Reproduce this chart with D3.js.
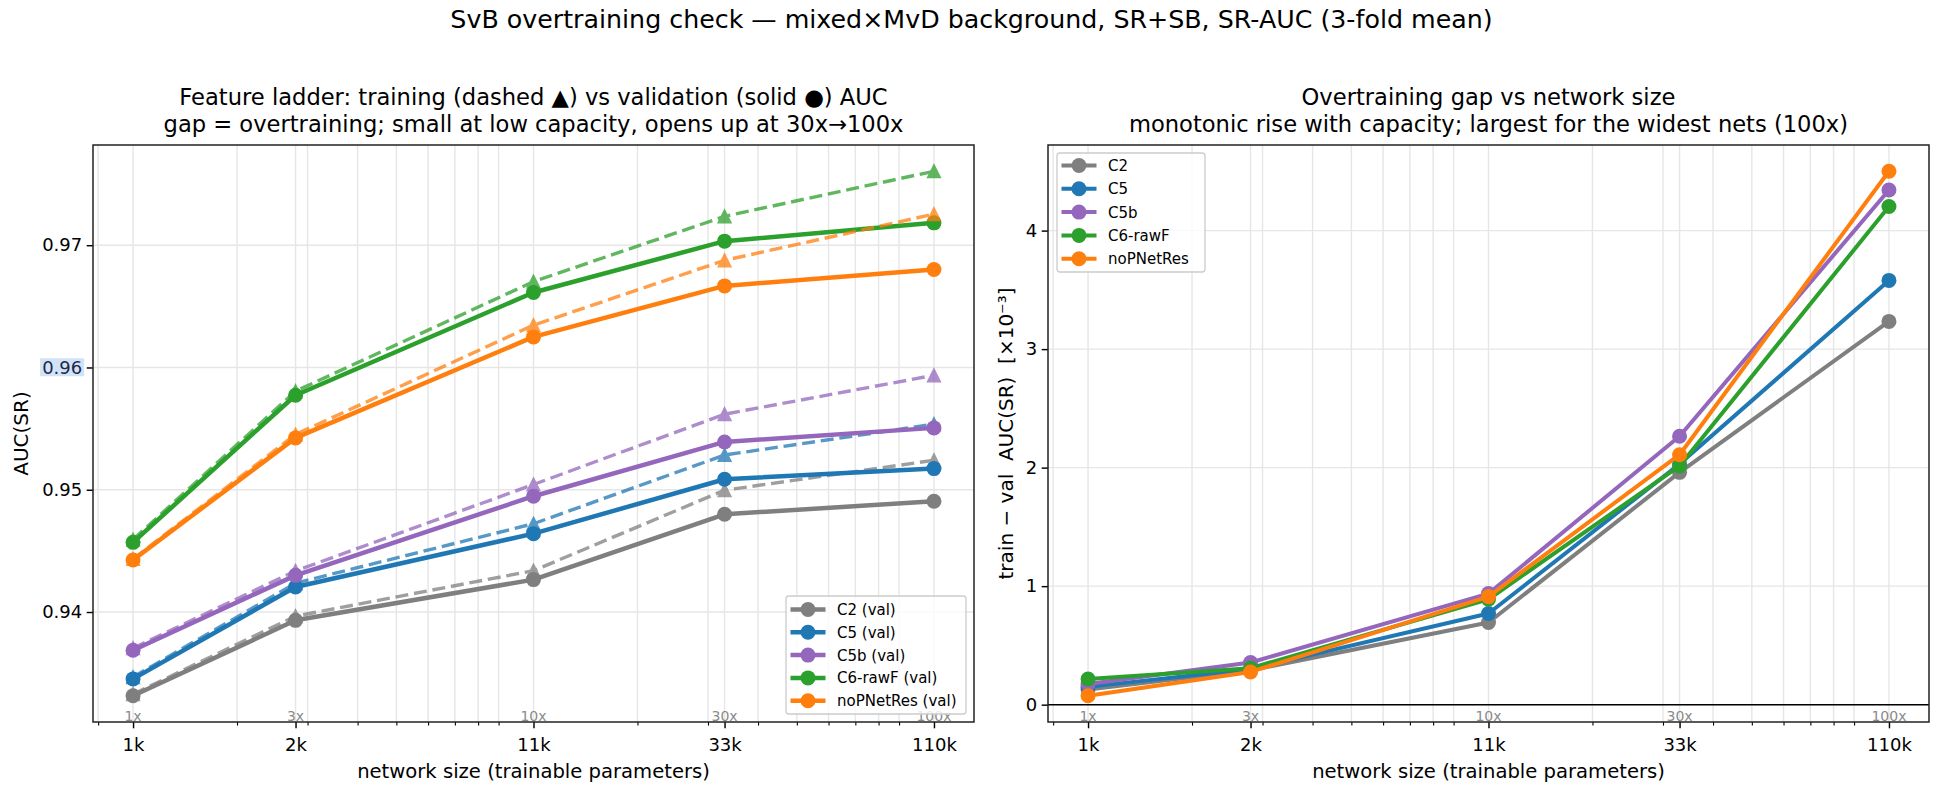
<!DOCTYPE html>
<html>
<head>
<meta charset="utf-8">
<script src="https://cdn.jsdelivr.net/npm/d3@7"></script>
<style>
body { margin: 0; background: #fff; }
text { font-family: "DejaVu Sans", sans-serif; }
</style>
</head>
<body>
<div id="chart"></div>
<script>
// network sizes (trainable parameters) and their tick labels
var params = [1100, 2800, 11000, 33000, 110000];
var paramLabels = ['1k', '2k', '11k', '33k', '110k'];
var multLabels = ['1x', '3x', '10x', '30x', '100x'];

var configs = ['C2', 'C5', 'C5b', 'C6-rawF', 'noPNetRes'];

// validation AUC(SR), 3-fold mean
var valC2   = [0.93315, 0.93932, 0.94265, 0.94799, 0.94906];
var valC5   = [0.93453, 0.94205, 0.94641, 0.95086, 0.95173];
var valC5b  = [0.93687, 0.94300, 0.94947, 0.95391, 0.95506];
var valC6   = [0.94570, 0.95773, 0.96613, 0.97033, 0.97183];
var valNoP  = [0.94426, 0.95424, 0.96250, 0.96667, 0.96801];

// training AUC(SR), 3-fold mean
var trainC2  = [0.93328, 0.93966, 0.94338, 0.94996, 0.95241];
var trainC5  = [0.93468, 0.94236, 0.94722, 0.95284, 0.95536];
var trainC5b = [0.93704, 0.94336, 0.95043, 0.95618, 0.95936];
var trainC6  = [0.94592, 0.95806, 0.96702, 0.97236, 0.97605];
var trainNoP = [0.94434, 0.95452, 0.96346, 0.96876, 0.97254];

// train - val gap, in units of 1e-3
var gapC2  = [0.127, 0.290, 0.693, 1.960, 3.234];
var gapC5  = [0.150, 0.300, 0.769, 2.030, 3.580];
var gapC5b = [0.175, 0.356, 0.937, 2.265, 4.342];
var gapC6  = [0.216, 0.308, 0.889, 2.014, 4.203];
var gapNoP = [0.075, 0.276, 0.912, 2.109, 4.501];

var valSeries = [valC2, valC5, valC5b, valC6, valNoP];
var trainSeries = [trainC2, trainC5, trainC5b, trainC6, trainNoP];
var gapSeries = [gapC2, gapC5, gapC5b, gapC6, gapNoP];

var colors = ['#7f7f7f', '#1f77b4', '#9467bd', '#2ca02c', '#ff7f0e'];

// svg area
var svgWidth = 1943;
var svgHeight = 790;

var svg = d3.select('#chart')
    .append('svg')
    .attr('width', svgWidth)
    .attr('height', svgHeight)
    .style('background', '#fff');

svg.append('text')
    .attr('x', svgWidth / 2)
    .attr('y', 28)
    .attr('text-anchor', 'middle')
    .style('font-size', '25.3px')
    .text('SvB overtraining check — mixed×MvD background, SR+SB, SR-AUC (3-fold mean)');

// one panel: scales, grid, ticks, spines
function makePanel(box, yValues, yTicks, yFormat, titles, yLabel, yLabelX) {
    var g = svg.append('g');

    // log x with matplotlib-like 5% margins
    var lx0 = Math.log10(d3.min(params));
    var lx1 = Math.log10(d3.max(params));
    var lpad = 0.05 * (lx1 - lx0);
    var x = d3.scaleLog()
        .domain([Math.pow(10, lx0 - lpad), Math.pow(10, lx1 + lpad)])
        .range([box.x0, box.x1]);

    var ext = d3.extent(yValues);
    var ypad = 0.05 * (ext[1] - ext[0]);
    var y = d3.scaleLinear()
        .domain([ext[0] - ypad, ext[1] + ypad])
        .range([box.y1, box.y0]);

    // minor log ticks (no decades, those were replaced by the param ticks)
    var minor = [];
    for (var e = 2; e <= 5; e++) {
        for (var m = 2; m <= 9; m++) {
            var v = m * Math.pow(10, e);
            if (v > x.domain()[0] && v < x.domain()[1]) minor.push(v);
        }
    }

    var grid = g.append('g');
    grid.selectAll('line.gx')
        .data(minor.concat(params))
        .enter()
        .append('line')
        .attr('x1', d => x(d)).attr('x2', d => x(d))
        .attr('y1', box.y0).attr('y2', box.y1)
        .attr('stroke', '#e6e6e6')
        .attr('stroke-width', 1.4);
    grid.selectAll('line.gy')
        .data(yTicks)
        .enter()
        .append('line')
        .attr('x1', box.x0).attr('x2', box.x1)
        .attr('y1', d => y(d)).attr('y2', d => y(d))
        .attr('stroke', '#e6e6e6')
        .attr('stroke-width', 1.4);

    // gray capacity multipliers along the bottom
    g.selectAll('text.mult')
        .data(multLabels)
        .enter()
        .append('text')
        .attr('x', (d, i) => x(params[i]))
        .attr('y', box.y1 - 1.5)
        .attr('text-anchor', 'middle')
        .style('font-size', '14px')
        .attr('fill', '#8a8a8a')
        .text(d => d);

    // x axis, major + minor
    g.append('g')
        .attr('transform', `translate(0, ${box.y1})`)
        .call(d3.axisBottom(x)
            .tickValues(params)
            .tickFormat((d, i) => paramLabels[i])
            .tickSize(6.3)
            .tickPadding(10.4));
    g.append('g')
        .attr('transform', `translate(0, ${box.y1})`)
        .call(d3.axisBottom(x)
            .tickValues(minor)
            .tickFormat('')
            .tickSize(3.6))
        .selectAll('line').attr('stroke-width', 1.1);

    var yAxis = g.append('g')
        .attr('transform', `translate(${box.x0}, 0)`)
        .call(d3.axisLeft(y)
            .tickValues(yTicks)
            .tickFormat(yFormat)
            .tickSize(6.3)
            .tickPadding(4.5));

    g.selectAll('.domain').remove();
    g.selectAll('.tick line').attr('stroke', '#000').filter(function() {
        return !this.getAttribute('stroke-width');
    }).attr('stroke-width', 1.45);
    g.selectAll('.tick text')
        .style('font-size', '18px')
        .style('font-family', '"DejaVu Sans", sans-serif')
        .attr('fill', '#000');

    // titles
    titles.forEach((t, i) => {
        svg.append('text')
            .attr('x', (box.x0 + box.x1) / 2)
            .attr('y', 105 + i * 27.2)
            .attr('text-anchor', 'middle')
            .style('font-size', '22.6px')
            .text(t);
    });

    svg.append('text')
        .attr('x', (box.x0 + box.x1) / 2)
        .attr('y', 778)
        .attr('text-anchor', 'middle')
        .style('font-size', '19.6px')
        .text('network size (trainable parameters)');

    svg.append('text')
        .attr('transform', `translate(${yLabelX}, ${(box.y0 + box.y1) / 2}) rotate(-90)`)
        .attr('text-anchor', 'middle')
        .attr('dy', '0.35em')
        .style('font-size', '20px')
        .style('white-space', 'pre')
        .text(yLabel);

    var data = g.append('g');
    var top = svg.append('g');

    // spines drawn last
    top.append('rect')
        .attr('x', box.x0).attr('y', box.y0)
        .attr('width', box.x1 - box.x0).attr('height', box.y1 - box.y0)
        .attr('fill', 'none')
        .attr('stroke', '#222')
        .attr('stroke-width', 1.5);

    return { g: data, x: x, y: y, yAxis: yAxis, top: top };
}

function triangle(s) {
    return `M0,${-s}L${s},${s}L${-s},${s}Z`;
}

function legend(parent, bx, by, bw, bh, rowY0, rowStep, labels, lw) {
    var lg = parent.append('g');
    lg.append('rect')
        .attr('x', bx).attr('y', by)
        .attr('width', bw).attr('height', bh)
        .attr('rx', 3)
        .attr('fill', '#fff').attr('fill-opacity', 0.8)
        .attr('stroke', '#cccccc').attr('stroke-width', 1.3);
    labels.forEach((lab, i) => {
        var ry = rowY0 + i * rowStep;
        lg.append('line')
            .attr('x1', bx + 4.5).attr('x2', bx + 39.5)
            .attr('y1', ry).attr('y2', ry)
            .attr('stroke', colors[i]).attr('stroke-width', lw);
        lg.append('circle')
            .attr('cx', bx + 22).attr('cy', ry).attr('r', 7.5)
            .attr('fill', colors[i]);
        lg.append('text')
            .attr('x', bx + 51).attr('y', ry)
            .attr('dy', '0.36em')
            .style('font-size', '15px')
            .text(lab);
    });
}

// ---- left panel: train vs val AUC
var allAuc = d3.merge(valSeries.concat(trainSeries));
var left = makePanel(
    { x0: 93, x1: 974, y0: 145, y1: 722 },
    allAuc,
    [0.94, 0.95, 0.96, 0.97],
    d3.format('.2f'),
    ['Feature ladder: training (dashed ▲) vs validation (solid ●) AUC',
     'gap = overtraining; small at low capacity, opens up at 30x→100x'],
    'AUC(SR)', 21
);

// highlighted 0.96 tick label
left.yAxis.selectAll('.tick').filter(d => d === 0.96).each(function() {
    var t = d3.select(this).select('text');
    var bb = t.node().getBBox();
    d3.select(this).insert('rect', 'text')
        .attr('x', bb.x - 2).attr('y', bb.y + 1.5)
        .attr('width', bb.width + 4).attr('height', bb.height - 3)
        .attr('fill', '#d2e3f8');
    t.attr('fill', '#1c2b48');
});

var lineL = d3.line()
    .x((d, i) => left.x(params[i]))
    .y(d => left.y(d));

configs.forEach((c, k) => {
    var gv = left.g.append('g');
    gv.append('path')
        .attr('d', lineL(valSeries[k]))
        .attr('fill', 'none')
        .attr('stroke', colors[k])
        .attr('stroke-width', 4.5)
        .attr('stroke-linejoin', 'round');
    gv.selectAll('circle')
        .data(valSeries[k])
        .enter()
        .append('circle')
        .attr('cx', (d, i) => left.x(params[i]))
        .attr('cy', d => left.y(d))
        .attr('r', 7.5)
        .attr('fill', colors[k]);

    var gt = left.g.append('g').attr('opacity', 0.75);
    gt.append('path')
        .attr('d', lineL(trainSeries[k]))
        .attr('fill', 'none')
        .attr('stroke', colors[k])
        .attr('stroke-width', 3.4)
        .attr('stroke-dasharray', '13,5.8');
    gt.selectAll('path.tri')
        .data(trainSeries[k])
        .enter()
        .append('path')
        .attr('d', triangle(6.3))
        .attr('transform', (d, i) => `translate(${left.x(params[i])}, ${left.y(d)})`)
        .attr('fill', colors[k])
        .attr('stroke', colors[k])
        .attr('stroke-width', 1.6);
});

legend(left.top, 786, 596, 180, 118, 609.5, 22.8, configs.map(c => c + ' (val)'), 4.5);

// ---- right panel: train - val gap
var right = makePanel(
    { x0: 1048, x1: 1929, y0: 145, y1: 722 },
    d3.merge(gapSeries),
    [0, 1, 2, 3, 4],
    d3.format('d'),
    ['Overtraining gap vs network size',
     'monotonic rise with capacity; largest for the widest nets (100x)'],
    'train − val  AUC(SR)  [×10⁻³]', 1005.5
);

right.g.append('line')
    .attr('x1', 1048).attr('x2', 1929)
    .attr('y1', right.y(0)).attr('y2', right.y(0))
    .attr('stroke', '#000')
    .attr('stroke-width', 1.45);

var lineR = d3.line()
    .x((d, i) => right.x(params[i]))
    .y(d => right.y(d));

configs.forEach((c, k) => {
    var gg = right.g.append('g');
    gg.append('path')
        .attr('d', lineR(gapSeries[k]))
        .attr('fill', 'none')
        .attr('stroke', colors[k])
        .attr('stroke-width', 4)
        .attr('stroke-linejoin', 'round');
    gg.selectAll('circle')
        .data(gapSeries[k])
        .enter()
        .append('circle')
        .attr('cx', (d, i) => right.x(params[i]))
        .attr('cy', d => right.y(d))
        .attr('r', 7.5)
        .attr('fill', colors[k]);
});

legend(right.top, 1057, 153, 148, 119, 165.5, 23.3, configs, 4);
</script>
</body>
</html>
